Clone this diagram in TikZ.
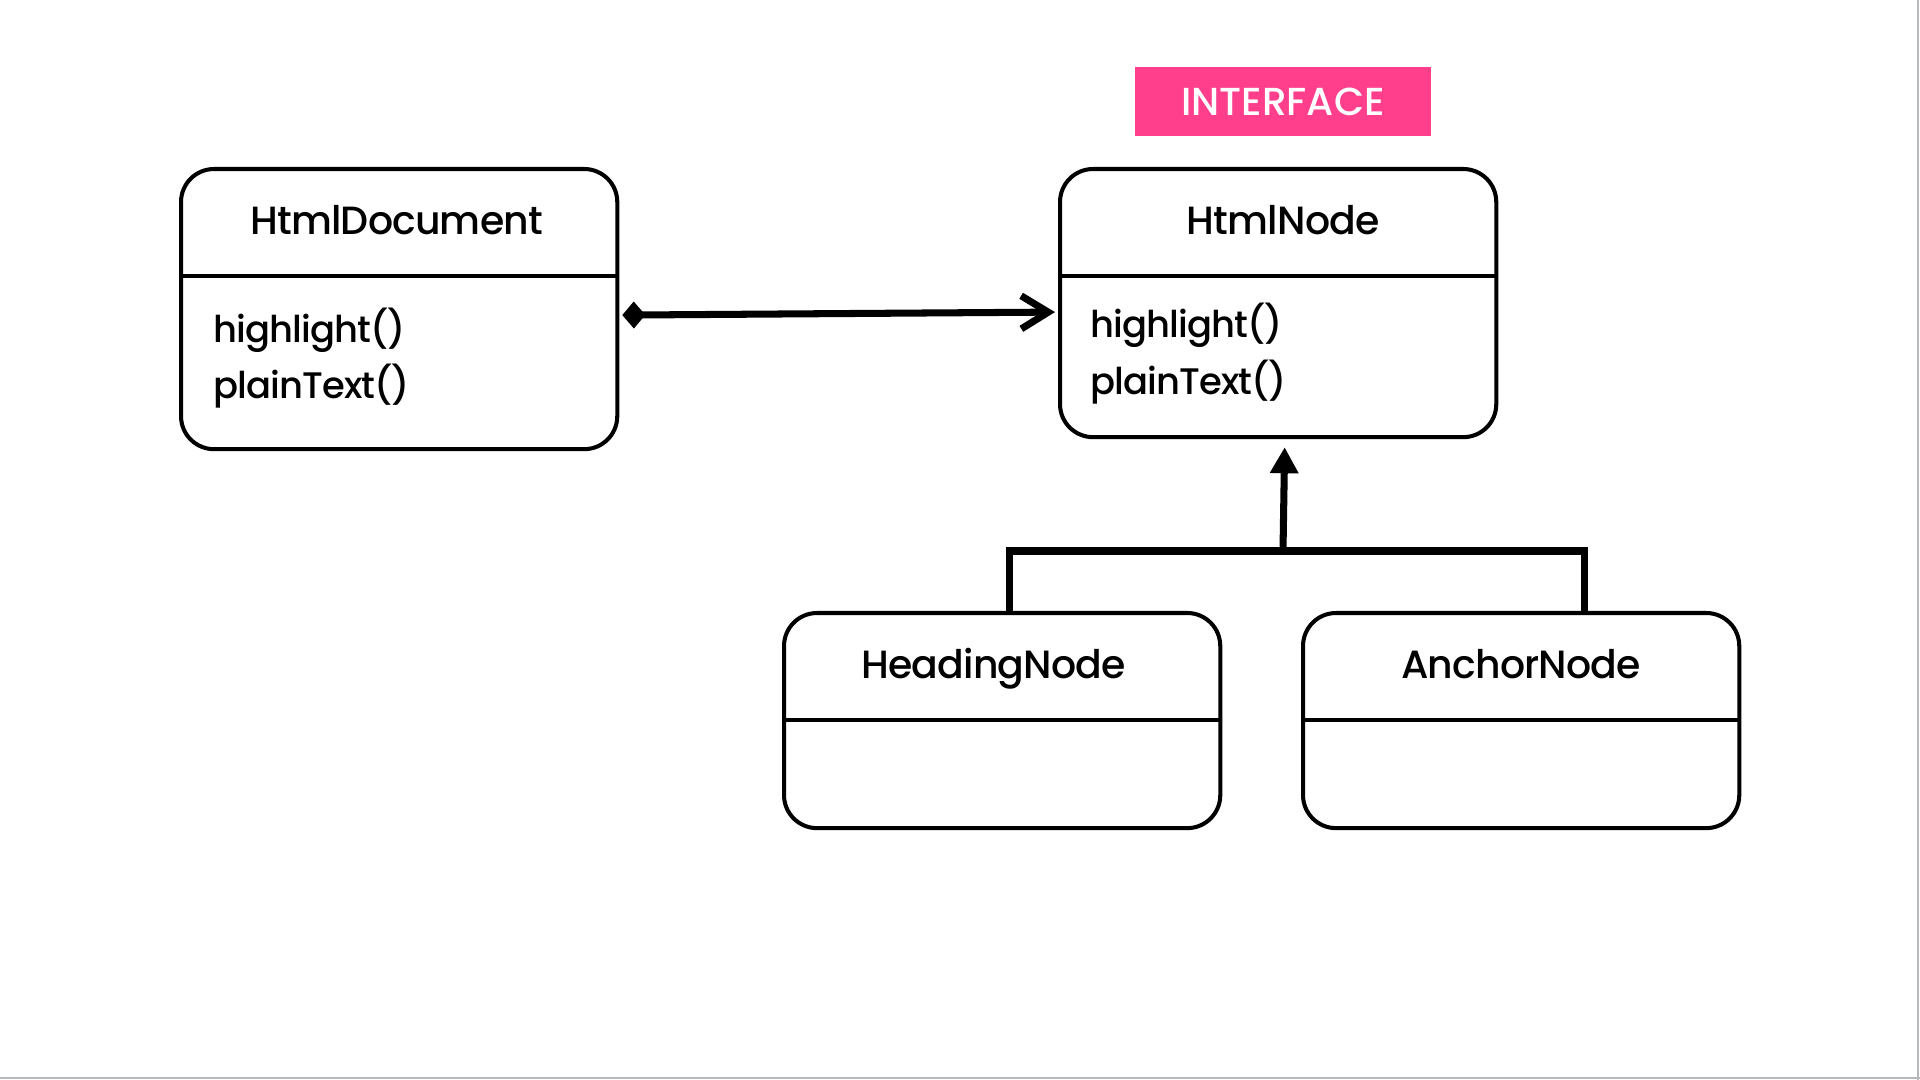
\documentclass[tikz,border=0pt]{standalone}
\usepackage{fontspec}
\setmainfont{Poppins Medium}
\usetikzlibrary{arrows.meta, positioning, calc}

\definecolor{tagpink}{HTML}{FF3E8C}
\definecolor{edgegrey}{RGB}{182,186,189}

\begin{document}
\begin{tikzpicture}[
    x=0.01cm, y=-0.01cm,
    classbox/.style={rectangle, rounded corners=0.33cm, draw=black, line width=1.15pt, minimum width=4.36cm, anchor=north west, inner sep=0pt},
    classtitle/.style={rectangle, minimum width=4.36cm, minimum height=1.08cm, text height=0.36cm, text depth=0.1cm, anchor=north, inner sep=0pt, text centered, font=\fontsize{11.2}{13}\selectfont\addfontfeatures{LetterSpace=-2}},
    method/.style={anchor=base west, inner sep=0pt, font=\fontsize{10.5}{13}\selectfont\addfontfeatures{LetterSpace=-2.5}},
    divider/.style={line width=1.15pt},
    link/.style={line width=2pt},
    compose/.style={{Diamond[length=0.23cm, width=0.27cm]}-{Straight Barb[length=0.27cm, width=0.33cm]}, line width=2pt},
    inherit/.style={-{Triangle[length=0.26cm, width=0.27cm]}, line width=2pt},
    tag/.style={rectangle, fill=tagpink, text=white, minimum width=2.96cm, minimum height=0.69cm, inner sep=0pt, font=\fontsize{11.1}{13}\selectfont}
]
\useasboundingbox (0,0) rectangle (1920,1080);

% HtmlDocument
\node[classbox, minimum height=2.80cm] (doc) at (179,167) {};
\node[classtitle, xshift=-0.025cm] (doc-title) at (doc.north) {HtmlDocument};
\draw[divider] (doc.west |- doc-title.south) -- (doc.east |- doc-title.south);
\node[method] (doc-hl) at ($(doc.north west)+(34,176)$) {highlight()};
\node[method] (doc-pt) at ($(doc.north west)+(34,232)$) {plainText()};

% Interface tag
\node[tag] (tag) at (1283,101.5) {INTERFACE};

% HtmlNode
\node[classbox, minimum height=2.68cm] (hnode) at (1058,167) {};
\node[classtitle, xshift=0.05cm] (hnode-title) at (hnode.north) {HtmlNode};
\draw[divider] (hnode.west |- hnode-title.south) -- (hnode.east |- hnode-title.south);
\node[method] (hnode-hl) at ($(hnode.north west)+(32,171)$) {highlight()};
\node[method] (hnode-pt) at ($(hnode.north west)+(32,228)$) {plainText()};

% HeadingNode
\node[classbox, minimum height=2.15cm] (heading) at (782,611) {};
\node[classtitle, xshift=-0.085cm] (heading-title) at (heading.north) {HeadingNode};
\draw[divider] (heading.west |- heading-title.south) -- (heading.east |- heading-title.south);

% AnchorNode
\node[classbox, minimum height=2.15cm] (anchor) at (1301,611) {};
\node[classtitle] (anchor-title) at (anchor.north) {AnchorNode};
\draw[divider] (anchor.west |- anchor-title.south) -- (anchor.east |- anchor-title.south);

% Composition
\draw[compose] ([xshift=0.03cm, yshift=-0.06cm]doc.east) -- ([xshift=-0.03cm, yshift=-0.09cm]hnode.west);

% Inheritance
\coordinate (junction) at (1283,551);
\draw[link] ([xshift=0.07cm]heading.north) |- (junction) -| ([xshift=0.63cm]anchor.north);
\draw[inherit] (junction) -- ([xshift=0.065cm, yshift=-0.08cm]hnode.south);

% Frame edges
\draw[edgegrey, line width=0.6pt] (1918,0) -- (1918,1080);
\draw[edgegrey, line width=0.6pt] (0,1078) -- (1920,1078);

\end{tikzpicture}
\end{document}
